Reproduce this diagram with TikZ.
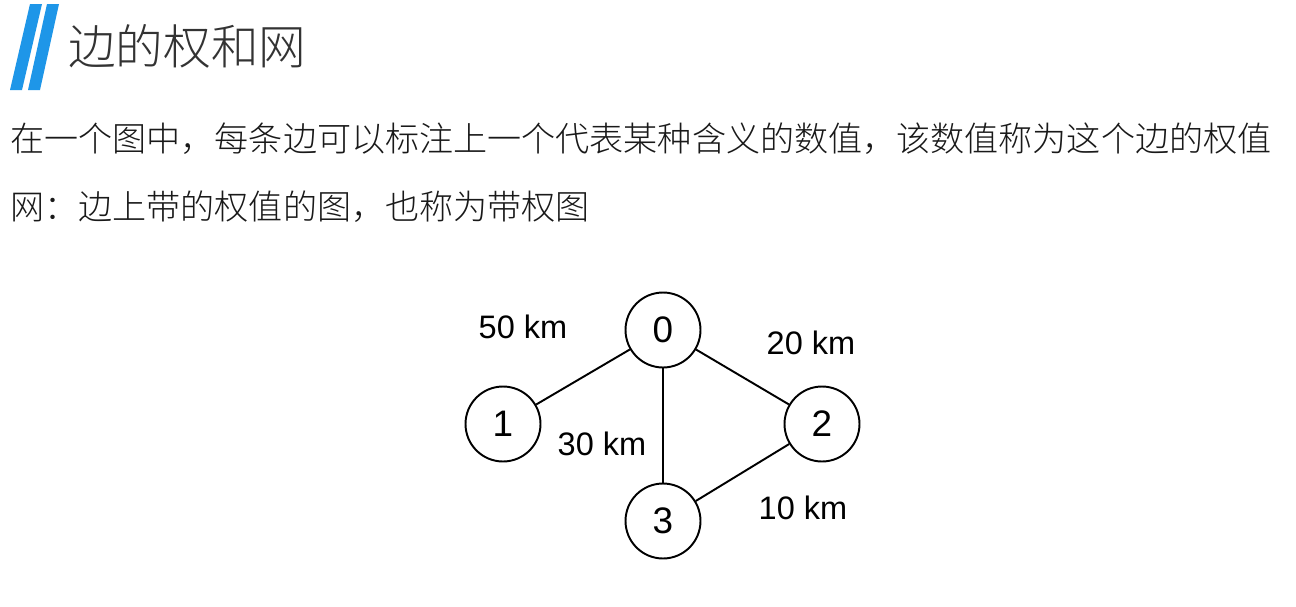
\documentclass[tikz,border=0pt]{standalone}
\usepackage{fontspec}
\setmainfont{Liberation Sans}
\newfontfamily\cjk{Noto Sans CJK SC Light}
\usetikzlibrary{positioning}
\definecolor{barblue}{HTML}{1E96E8}
\definecolor{txtgray}{HTML}{333333}

\begin{document}
\begin{tikzpicture}[x=0.02cm, y=-0.02cm,
    vtx/.style={circle, draw, line width=1.1pt, minimum size=1.5cm, inner sep=0pt,
                font=\fontsize{21}{21}\selectfont},
    wlabel/.style={font=\fontsize{18.5}{18.5}\selectfont},
    bodytxt/.style={anchor=west, inner sep=0pt, text=black!90,
                font=\cjk\fontsize{19.4}{19.4}\selectfont}]
    %
    \useasboundingbox[fill=white] (0,0) rectangle (1296,606);
    %
    \fill[barblue] (10,90) -- (22,90) -- (42,4) -- (30,4) -- cycle;
    \fill[barblue] (28,90) -- (40,90) -- (59,4) -- (47,4) -- cycle;
    \node[anchor=west, inner sep=0pt, text=txtgray,
          font=\cjk\fontsize{27.1}{27.1}\selectfont] (title) at (68,46) {边的权和网};
    %
    \node[bodytxt] (line1) at (10,139) {在一个图中，每条边可以标注上一个代表某种含义的数值，该数值称为这个边的权值};
    \node[bodytxt] (line2) at (10,207) {网：边上带的权值的图，也称为带权图};
    %
    \node[vtx] (v0) at (663,330) {0};
    \node[vtx] (v1) at (503,424) {1};
    \node[vtx] (v2) at (822,424) {2};
    \node[vtx] (v3) at (663,521) {3};
    %
    \draw[line width=1.1pt] (v0) -- (v1);
    \draw[line width=1.1pt] (v0) -- (v2);
    \draw[line width=1.1pt] (v0) -- (v3);
    \draw[line width=1.1pt] (v2) -- (v3);
    %
    \node[wlabel] (w01) at (523,327) {50 km};
    \node[wlabel] (w02) at (811,343) {20 km};
    \node[wlabel] (w03) at (602,444) {30 km};
    \node[wlabel] (w23) at (803,508) {10 km};
\end{tikzpicture}
\end{document}
